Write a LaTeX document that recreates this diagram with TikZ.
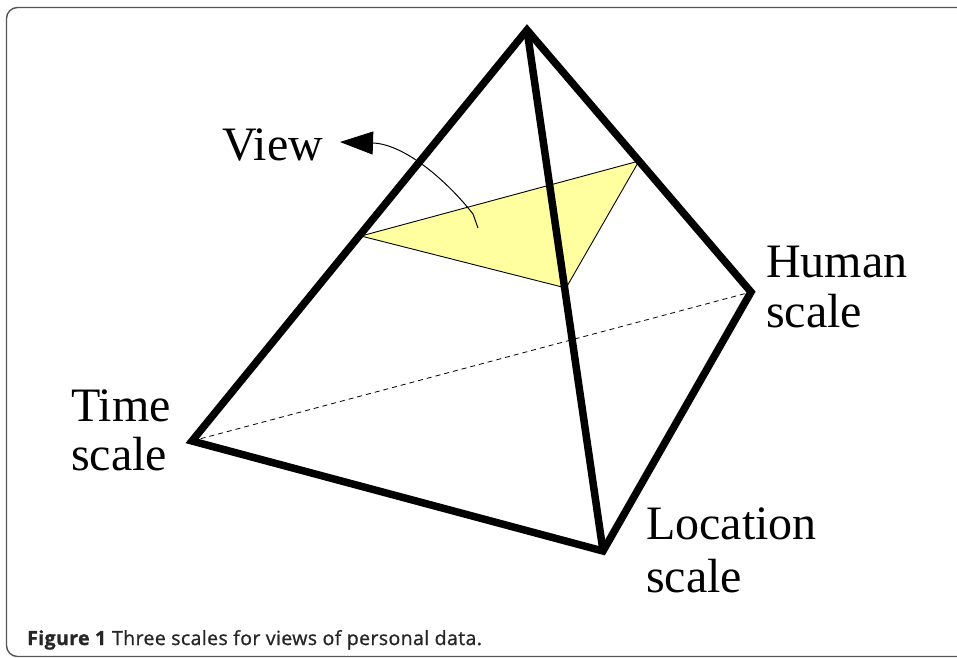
\documentclass[tikz,border=0pt]{standalone}
\usepackage{fontspec}
\setmainfont{Liberation Serif}
\newfontfamily\capfont[FakeBold=1, LetterSpace=2]{Open Sans}
\usetikzlibrary{arrows.meta}
\definecolor{viewyellow}{RGB}{255,255,160}
\definecolor{framegray}{RGB}{85,85,85}
\tikzset{
  edge/.style={line width=7.5pt, line join=miter, miter limit=10},
  hidden/.style={line width=0.8pt, dash pattern=on 5pt off 4pt},
  plane/.style={fill=viewyellow, draw=black, line width=0.9pt, line join=miter},
  lbl/.style={anchor=base west, inner sep=0pt, font=\fontsize{48}{50}\selectfont},
  pointer/.style={line width=1pt, -{Triangle[length=33pt,width=23pt]}},
}
\begin{document}
\begin{tikzpicture}[x=1pt,y=-1pt]
\useasboundingbox (0,0) rectangle (957,657);
\begin{scope}
\clip (0,0) rectangle (957,657);
\draw[framegray, line width=1.4pt, rounded corners=11pt] (6.5,7.5) rectangle (990,656.5);
\end{scope}
% vertices
\coordinate (A) at (527,30);
\coordinate (T) at (192,441);
\coordinate (H) at (751,292);
\coordinate (L) at (603,551);
% view plane
\coordinate (P1) at (361,236);
\coordinate (P2) at (639,161);
\coordinate (P3) at (566,288);
\draw[plane] (P1) -- (P2) -- (P3) -- cycle;
% hidden edge
\draw[hidden] (T) -- (H);
% pyramid edges
\draw[edge] (T) -- (A) -- (H) -- (L) -- cycle;
\draw[edge] (A) -- (L);
% view pointer
\coordinate (vs) at (478,228);
\coordinate (vt) at (340,142);
\draw[pointer] (vs) -- (473,214) .. controls (448,182) and (405,144) .. (vt);
% labels
\node[lbl] (view) at (222,160) {View};
\node[lbl] (hum1) at (766,277) {Human};
\node[lbl] (hum2) at (766,327) {scale};
\node[lbl] (tim1) at (71,421) {Time};
\node[lbl] (tim2) at (71,470) {scale};
\node[lbl] (loc1) at (646,539) {Location};
\node[lbl] (loc2) at (646,592) {scale};
% caption
\node[anchor=base west, inner sep=0pt, font=\capfont\fontsize{19.5}{21}\selectfont, text=black!85] (cap) at (27,645) {\textbf{Figure 1} Three scales for views of personal data.};
\end{tikzpicture}
\end{document}
